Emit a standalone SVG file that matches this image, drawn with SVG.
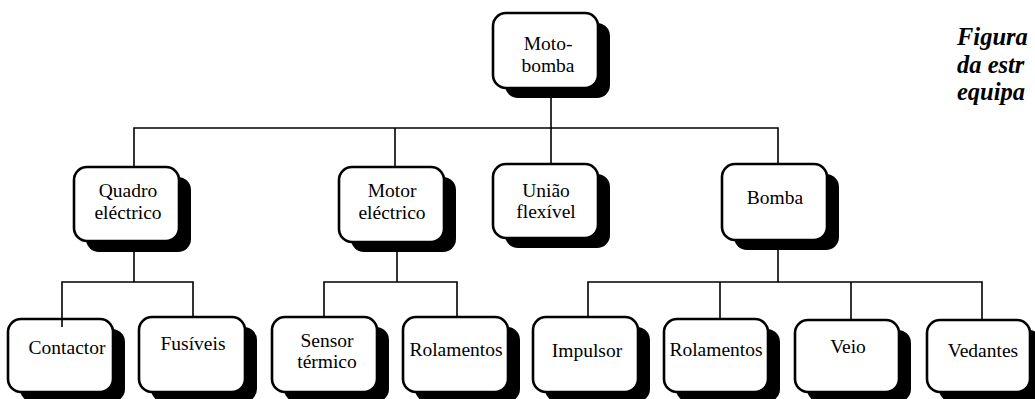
<svg xmlns="http://www.w3.org/2000/svg" width="1035" height="399" viewBox="0 0 1035 399">
<style>
.sh{fill:#000}
.bx{fill:#fff;stroke:#000;stroke-width:2.6}
.t{font-family:"Liberation Serif","Times New Roman","DejaVu Serif",serif;font-size:19.5px;fill:#000;text-anchor:middle}
.c{fill:none;stroke:#000;stroke-width:1.6}
.fig{font-family:"Liberation Serif","Times New Roman","DejaVu Serif",serif;font-size:24.5px;font-weight:bold;font-style:italic;fill:#000}
</style>
<rect width="1035" height="399" fill="#fff"/>
<g id="moto"><rect class="sh" x="505" y="23" width="105" height="75" rx="13"/><rect class="bx" x="493" y="13" width="105" height="75" rx="13"/><text class="t" x="548" y="50">Moto-</text><text class="t" x="548" y="72">bomba</text></g>
<g id="quadro"><rect class="sh" x="86" y="177" width="105" height="75" rx="13"/><rect class="bx" x="74" y="167" width="105" height="74" rx="13"/><text class="t" x="128" y="197">Quadro</text><text class="t" x="128" y="219">eléctrico</text></g>
<g id="motor"><rect class="sh" x="351" y="177" width="105" height="75" rx="13"/><rect class="bx" x="339" y="167" width="105" height="75" rx="13"/><text class="t" x="392" y="197">Motor</text><text class="t" x="392" y="219">eléctrico</text></g>
<g id="uniao"><rect class="sh" x="505" y="174" width="105" height="74" rx="13"/><rect class="bx" x="493" y="164" width="105" height="74" rx="13"/><text class="t" x="546" y="197">União</text><text class="t" x="546" y="218">flexível</text></g>
<g id="bomba"><rect class="sh" x="734" y="174" width="105" height="76" rx="13"/><rect class="bx" x="722" y="164" width="105" height="76" rx="13"/><text class="t" x="775" y="204">Bomba</text></g>
<g id="contactor"><rect class="sh" x="20" y="329" width="105" height="73" rx="13"/><rect class="bx" x="8" y="319" width="105" height="73" rx="13"/><text class="t" x="67" y="354">Contactor</text></g>
<g id="fusiveis"><rect class="sh" x="151" y="327" width="106" height="75" rx="13"/><rect class="bx" x="139" y="317" width="106" height="75" rx="13"/><text class="t" x="193" y="350">Fusíveis</text></g>
<g id="sensor"><rect class="sh" x="284" y="327" width="105" height="75" rx="13"/><rect class="bx" x="272" y="317" width="105" height="75" rx="13"/><text class="t" x="327" y="347">Sensor</text><text class="t" x="327" y="368">térmico</text></g>
<g id="rolamentos1"><rect class="sh" x="415" y="327" width="105" height="75" rx="13"/><rect class="bx" x="403" y="317" width="105" height="75" rx="13"/><text class="t" x="456" y="356">Rolamentos</text></g>
<g id="impulsor"><rect class="sh" x="545" y="327" width="105" height="75" rx="13"/><rect class="bx" x="533" y="317" width="105" height="75" rx="13"/><text class="t" x="587" y="357">Impulsor</text></g>
<g id="rolamentos2"><rect class="sh" x="676" y="329" width="104" height="73" rx="13"/><rect class="bx" x="664" y="319" width="104" height="73" rx="13"/><text class="t" x="716" y="356">Rolamentos</text></g>
<g id="veio"><rect class="sh" x="807" y="330" width="104" height="72" rx="13"/><rect class="bx" x="795" y="320" width="104" height="72" rx="13"/><text class="t" x="848" y="353">Veio</text></g>
<g id="vedantes"><rect class="sh" x="939" y="330" width="103" height="72" rx="13"/><rect class="bx" x="927" y="320" width="103" height="72" rx="13"/><text class="t" x="983" y="357">Vedantes</text></g>
<g id="connectors">
<path class="c" d="M551,98 V164"/>
<path class="c" d="M134,167 V128 H778 V164"/>
<path class="c" d="M395,128 V167"/>
<path class="c" d="M134,252 V282"/>
<path class="c" d="M62,327 V282 H193 V317"/>
<path class="c" d="M397,252 V282"/>
<path class="c" d="M324,317 V282 H457 V317"/>
<path class="c" d="M778,250 V282"/>
<path class="c" d="M588,317 V282 H982 V320"/>
<path class="c" d="M720,282 V319"/>
<path class="c" d="M851,282 V320"/>
</g>
<g id="caption"><text class="fig" x="957" y="45">Figura</text><text class="fig" x="957" y="72.5">da estr</text><text class="fig" x="957" y="100">equipa</text></g>
</svg>
